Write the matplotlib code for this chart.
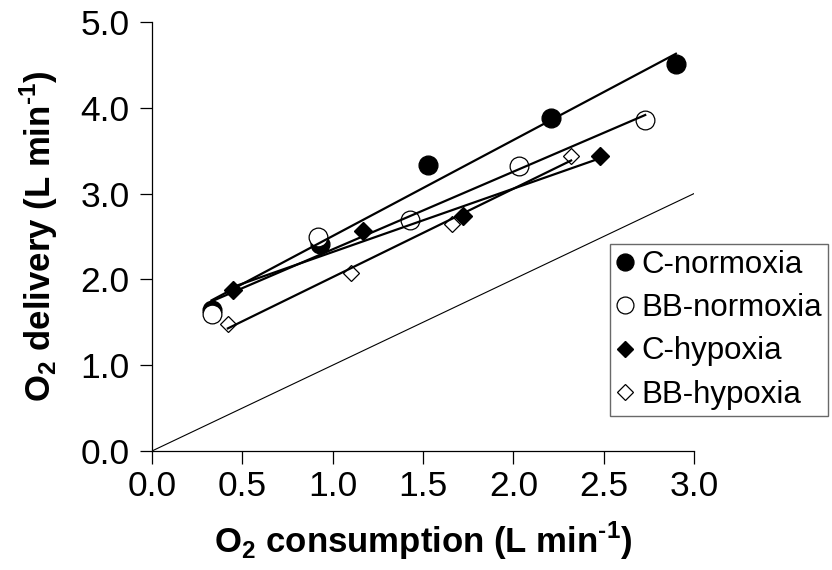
import numpy as np
import matplotlib
matplotlib.use('Agg')
import matplotlib.pyplot as plt

plt.rcParams['font.family'] = ['Liberation Sans', 'DejaVu Sans']
plt.rcParams['mathtext.fontset'] = 'custom'
plt.rcParams['mathtext.rm'] = 'Liberation Sans'
plt.rcParams['mathtext.bf'] = 'Liberation Sans:bold'

# Data (mean values per group)
c_norm_x = [0.33, 0.93, 1.53, 2.21, 2.90]
c_norm_y = [1.64, 2.41, 3.33, 3.88, 4.51]
bb_norm_x = [0.33, 0.92, 1.43, 2.03, 2.73]
bb_norm_y = [1.60, 2.49, 2.69, 3.32, 3.86]
c_hyp_x = [0.45, 1.17, 1.72, 2.48]
c_hyp_y = [1.88, 2.56, 2.74, 3.44]
bb_hyp_x = [0.42, 1.10, 1.66, 2.32]
bb_hyp_y = [1.48, 2.08, 2.65, 3.44]

# line of identity
identity_x = [0.0, 3.0]

series_names = ['C-normoxia', 'BB-normoxia', 'C-hypoxia', 'BB-hypoxia']
xticks = [0.0, 0.5, 1.0, 1.5, 2.0, 2.5, 3.0]
yticks = [0.0, 1.0, 2.0, 3.0, 4.0, 5.0]

fig = plt.figure(figsize=(8.32, 5.70), dpi=100)
ax = fig.add_axes([0.1827, 0.2088, 0.6514, 0.7526])

styles = [
    dict(marker='o', ms=13.5, mfc='black', mec='black', mew=1.0),
    dict(marker='o', ms=13.5, mfc='white', mec='black', mew=0.9),
    dict(marker='D', ms=9.5, mfc='black', mec='black', mew=1.0),
    dict(marker='D', ms=8.5, mfc='white', mec='black', mew=0.9),
]
all_x = [c_norm_x, bb_norm_x, c_hyp_x, bb_hyp_x]
all_y = [c_norm_y, bb_norm_y, c_hyp_y, bb_hyp_y]

handles = []
for xs, ys, st, name in zip(all_x, all_y, styles, series_names):
    h, = ax.plot(xs, ys, ls='none', zorder=2, label=name, **st)
    handles.append(h)
    # linear trend line over the range of the series
    b, a = np.polyfit(xs, ys, 1)
    xx = np.array([min(xs), max(xs)])
    ax.plot(xx, a + b * xx, color='black', lw=1.6, zorder=3)

ax.plot(identity_x, identity_x, color='black', lw=0.8, zorder=1)

ax.set_xlim(0, 3.0)
ax.set_ylim(0, 5.0)
ax.set_xticks(xticks)
ax.set_yticks(yticks)
ax.set_xticklabels(['%.1f' % v for v in xticks])
ax.set_yticklabels(['%.1f' % v for v in yticks])
ax.tick_params(direction='out', length=9, width=0.9, labelsize=25.5, colors='black')
ax.tick_params(axis='x', pad=5)
ax.tick_params(axis='y', pad=7)
for s in ['top', 'right']:
    ax.spines[s].set_visible(False)
for s in ['left', 'bottom']:
    ax.spines[s].set_linewidth(0.9)

# hyphen (U+2010) instead of the long math minus in the unit exponent
ax.set_xlabel('O$_\\mathbf{2}$ consumption (L min$^\\mathbf{\u20101}$)', fontsize=25, fontweight='bold', labelpad=12)
ax.set_ylabel('O$_\\mathbf{2}$ delivery (L min$^\\mathbf{\u20101}$)', fontsize=25, fontweight='bold', labelpad=15)

leg = ax.legend(handles=handles, loc='upper left', bbox_to_anchor=(0.733, 0.572),
                bbox_transform=fig.transFigure, borderaxespad=0, fontsize=22.5,
                frameon=True, fancybox=False, handlelength=0.6, handletextpad=0.2,
                labelspacing=0.42, borderpad=0.2, markerscale=0.9)
leg.get_frame().set_edgecolor('#444444')
leg.get_frame().set_linewidth(1.0)

fig.savefig('out.png', dpi=100)
